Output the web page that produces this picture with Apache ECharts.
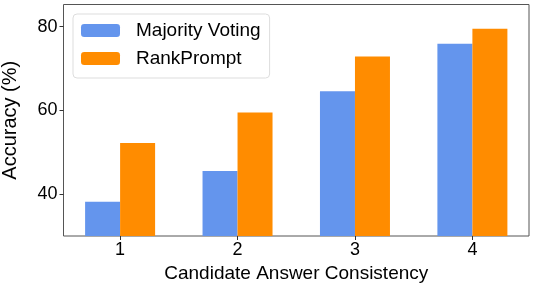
<!DOCTYPE html>
<html><head><meta charset="utf-8">
<script src="https://cdn.jsdelivr.net/npm/echarts@6/dist/echarts.min.js"></script>
<style>html,body{margin:0;padding:0;background:#fff}#c{width:534px;height:285px}</style>
</head><body><div id="c"></div>
<script>
const categories = [1, 2, 3, 4];
const majorityVoting = [38.2, 45.5, 64.6, 75.9];
const rankPrompt = [52.2, 59.5, 72.9, 79.5];
const yTicks = [40, 60, 80];
const seriesNames = ['Majority Voting', 'RankPrompt'];

const font = 'Liberation Sans, Arial, sans-serif';
const pair = (vals) => categories.map((c, i) => [c, vals[i]]);
const chart = echarts.init(document.getElementById('c'));
chart.setOption({
  animation: false,
  grid: {left: 63.5, right: 5, top: 4.5, bottom: 49, show: true, borderColor: '#555', borderWidth: 1,
         containLabel: false, outerBoundsMode: 'none'},
  legend: {
    left: 73, top: 14, orient: 'vertical',
    itemWidth: 39, itemHeight: 13, itemGap: 9,
    padding: [7, 9, 10, 8],
    borderColor: '#ddd', borderWidth: 1, borderRadius: 4,
    textStyle: {fontFamily: font, fontSize: 19, color: '#000', padding: [0, 0, 0, 11]},
    data: seriesNames
  },
  xAxis: {
    type: 'value', min: 0.518, max: 4.482,
    name: 'Candidate Answer Consistency', nameLocation: 'middle', nameGap: 22,
    nameTextStyle: {fontFamily: font, fontSize: 19, color: '#000'},
    splitLine: {show: false},
    axisLine: {show: false},
    axisTick: {show: true, length: 4, lineStyle: {color: '#333'}, customValues: categories},
    axisLabel: {fontFamily: font, fontSize: 18, color: '#000', margin: 5, customValues: categories}
  },
  yAxis: {
    type: 'value', min: 30, max: 85.3,
    name: 'Accuracy (%)', nameLocation: 'middle', nameGap: 43,
    nameTextStyle: {fontFamily: font, fontSize: 20, color: '#000'},
    splitLine: {show: false},
    axisLine: {show: false},
    axisTick: {show: true, length: 4, lineStyle: {color: '#333'}, customValues: yTicks},
    axisLabel: {fontFamily: font, fontSize: 18, color: '#000', margin: 6, customValues: yTicks}
  },
  series: [
    {name: seriesNames[0], type: 'bar', data: pair(majorityVoting), barWidth: 35, barGap: '0%',
     itemStyle: {color: '#6495ED'}},
    {name: seriesNames[1], type: 'bar', data: pair(rankPrompt), barWidth: 35, barGap: '0%',
     itemStyle: {color: '#FF8C00'}}
  ]
});
</script></body></html>
